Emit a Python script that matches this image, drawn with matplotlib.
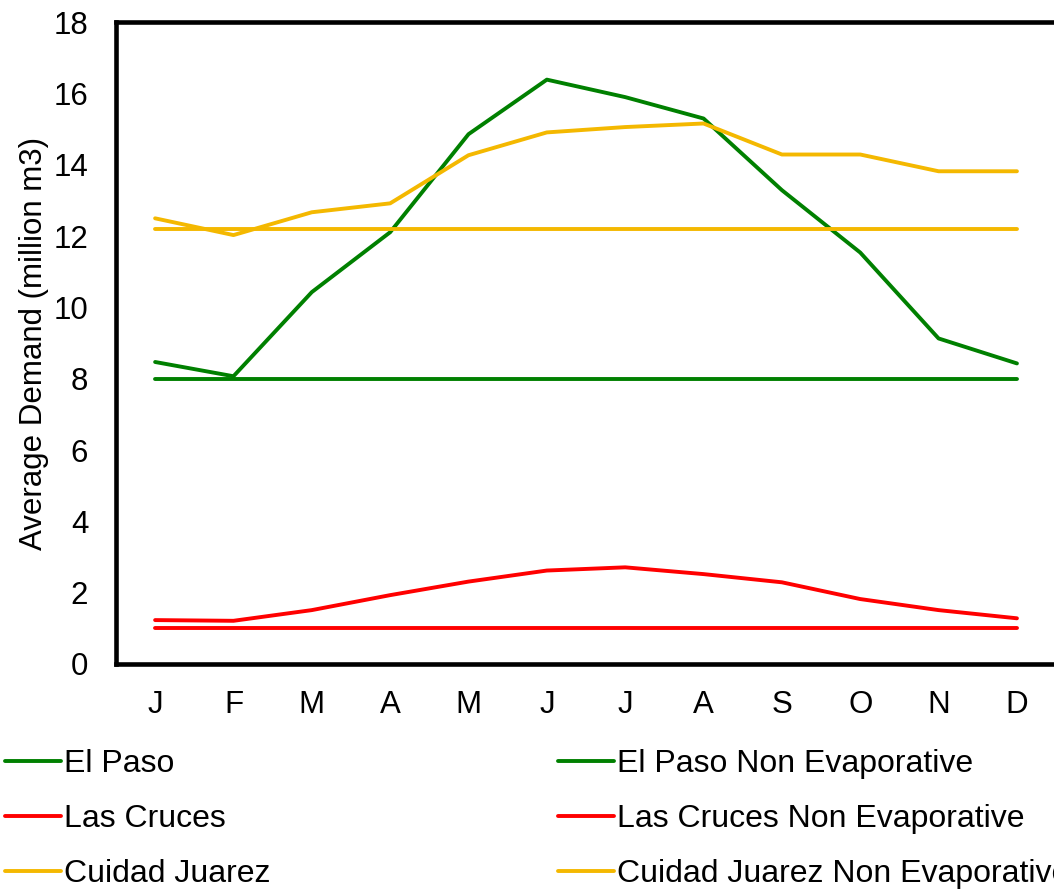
import matplotlib
matplotlib.use("Agg")
import matplotlib.pyplot as plt

months = ["J", "F", "M", "A", "M", "J", "J", "A", "S", "O", "N", "D"]
el_paso = [8.47, 8.07, 10.43, 12.11, 14.86, 16.39, 15.9, 15.3, 13.29, 11.54, 9.13, 8.43]
las_cruces = [1.23, 1.21, 1.51, 1.93, 2.31, 2.62, 2.71, 2.52, 2.29, 1.82, 1.51, 1.28]
juarez = [12.5, 12.03, 12.67, 12.92, 14.27, 14.91, 15.06, 15.16, 14.29, 14.29, 13.82, 13.82]
el_paso_ne = [8.0] * 12
las_cruces_ne = [1.0] * 12
juarez_ne = [12.2] * 12

labels = ["El Paso", "Las Cruces", "Cuidad Juarez",
          "El Paso Non Evaporative", "Las Cruces Non Evaporative",
          "Cuidad Juarez Non Evaporative"]
GREEN, RED, GOLD = "#008000", "#FF0000", "#F4B800"

plt.rcParams["font.family"] = ["Liberation Sans", "DejaVu Sans"]

fig = plt.figure(figsize=(10.54, 8.9), dpi=100)
ax = fig.add_axes([0.110, 0.254, 0.892, 0.721])

x = list(range(len(months)))
series = [(el_paso, GREEN), (las_cruces, RED), (juarez, GOLD),
          (el_paso_ne, GREEN), (las_cruces_ne, RED), (juarez_ne, GOLD)]
handles = []
for (vals, col), lab in zip(series, labels):
    h, = ax.plot(x, vals, color=col, lw=2.8, solid_capstyle="round",
                 solid_joinstyle="round", label=lab)
    handles.append(h)

ax.set_xlim(-0.5, 11.5)
ax.set_ylim(0, 18)
ax.set_yticks(range(0, 19, 2))
ax.set_xticks(x)
ax.set_xticklabels(months)
ax.tick_params(axis="both", length=0, labelsize=22.5)
ax.tick_params(axis="x", pad=18.5)
ax.tick_params(axis="y", pad=20)
for s in ax.spines.values():
    s.set_linewidth(3.3)
    s.set_color("black")
ax.set_ylabel("Average Demand (million m3)", fontsize=22.5, labelpad=3)

fig.legend(handles=handles, labels=labels, ncol=2, loc="upper left",
           bbox_to_anchor=(5 / 1054, 1 - 749 / 890), frameon=False,
           fontsize=23, handlelength=1.75, handletextpad=0.1,
           columnspacing=9.0, labelspacing=0.78, borderpad=0,
           borderaxespad=0)

fig.savefig("out.png", dpi=100)
